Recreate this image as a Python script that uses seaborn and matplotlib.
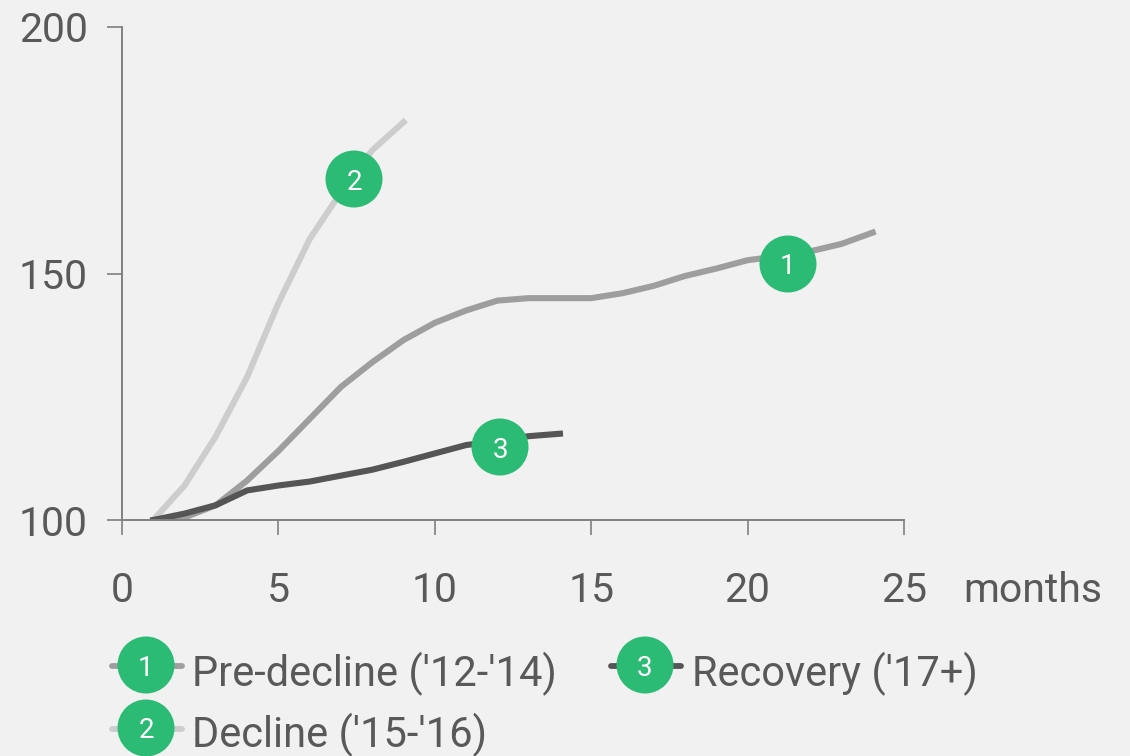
import matplotlib
matplotlib.use("Agg")
import matplotlib.pyplot as plt
import pandas as pd
import seaborn as sns
from matplotlib.lines import Line2D
from matplotlib.patches import Ellipse

# Index values by months since the start of each period
pre_decline = [100, 100.5, 103, 108, 114, 120.5, 127, 132, 136.5, 140, 142.5, 144.5,
               145, 145, 145, 146, 147.5, 149.5, 151, 152.7, 153.5, 154.5, 156, 158.3]
decline = [100, 107, 117, 129, 144, 157, 166.5, 175, 180.7]
recovery = [100, 101.3, 103, 106, 107, 107.8, 109, 110.2, 111.8, 113.5, 115.2, 116,
            117, 117.5]

series_labels = ["Pre-decline (\u203212-\u203214)", "Decline (\u203215-\u203216)", "Recovery (\u203217+)"]
series_values = [pre_decline, decline, recovery]
x_ticks = [0, 5, 10, 15, 20, 25]
y_ticks = [100, 150, 200]

BG = "#f1f1f1"
TEXT = "#595959"
AXIS = "#808080"
GREEN = "#2bbb75"
COLORS = ["#9e9e9e", "#cdcdcd", "#555555"]
W, H = 1130, 756
FONT_SIZE = 29.5

sns.set_theme(style="white", rc={"figure.facecolor": BG, "axes.facecolor": BG})
plt.rcParams["font.family"] = ["Roboto", "DejaVu Sans"]

frame = pd.DataFrame(
    [(name, i + 1, v) for name, vals in zip(series_labels, series_values) for i, v in enumerate(vals)],
    columns=["period", "month", "index"],
)

fig = plt.figure(figsize=(W / 100, H / 100), dpi=100)
left, right, top, bottom = 122, 904, 27, 520
ax = fig.add_axes([left / W, 1 - bottom / H, (right - left) / W, (bottom - top) / H])

sns.lineplot(data=frame, x="month", y="index", hue="period", hue_order=series_labels,
             palette=COLORS, linewidth=4.4, legend=False, ax=ax, zorder=2,
             solid_capstyle="projecting", solid_joinstyle="miter")

ax.set_xlim(0, 25)
ax.set_ylim(100, 200)
ax.set_xticks(x_ticks)
ax.set_yticks(y_ticks)
ax.set_xlabel("")
ax.set_ylabel("")
for side in ("top", "right"):
    ax.spines[side].set_visible(False)
for side in ("left", "bottom"):
    ax.spines[side].set_color(AXIS)
    ax.spines[side].set_linewidth(1.4)
ax.tick_params(axis="x", length=10.5, width=1.2, color=AXIS, labelcolor=TEXT,
               labelsize=FONT_SIZE, pad=26, bottom=True)
ax.tick_params(axis="y", length=10.5, width=1.2, color=AXIS, labelcolor=TEXT,
               labelsize=FONT_SIZE, pad=14, left=True)


def fx(px):
    return px / W


def fy(py):
    return 1 - py / H


def badge(cx, cy, digit):
    fig.add_artist(Ellipse((fx(cx), fy(cy)), 57 / W, 57 / H, transform=fig.transFigure,
                           facecolor=GREEN, edgecolor="none", zorder=5))
    fig.text(fx(cx), fy(cy), digit, color="white", fontsize=20, ha="center",
             va="center_baseline", zorder=6)


# Numbered callouts on the curves
badge(788, 264, "1")
badge(354, 179, "2")
badge(500, 447, "3")

fig.text(fx(963), fy(587), "months", color=TEXT, fontsize=FONT_SIZE, ha="left", va="center_baseline")

# Two-row key below the plot
for i, (lx, ly, tx, ty) in enumerate([(146, 666, 192, 669), (146, 729, 192, 730), (645, 666, 692, 669)]):
    fig.add_artist(Line2D([fx(lx - 34), fx(lx + 36)], [fy(ly), fy(ly)], color=COLORS[i], lw=4.2,
                          solid_capstyle="round", transform=fig.transFigure, zorder=4))
    badge(lx, ly - 1, str(i + 1))
    fig.text(fx(tx), fy(ty), series_labels[i], color=TEXT, fontsize=FONT_SIZE + 0.5, ha="left",
             va="center_baseline")

fig.savefig("out.png", dpi=100, facecolor=BG)
